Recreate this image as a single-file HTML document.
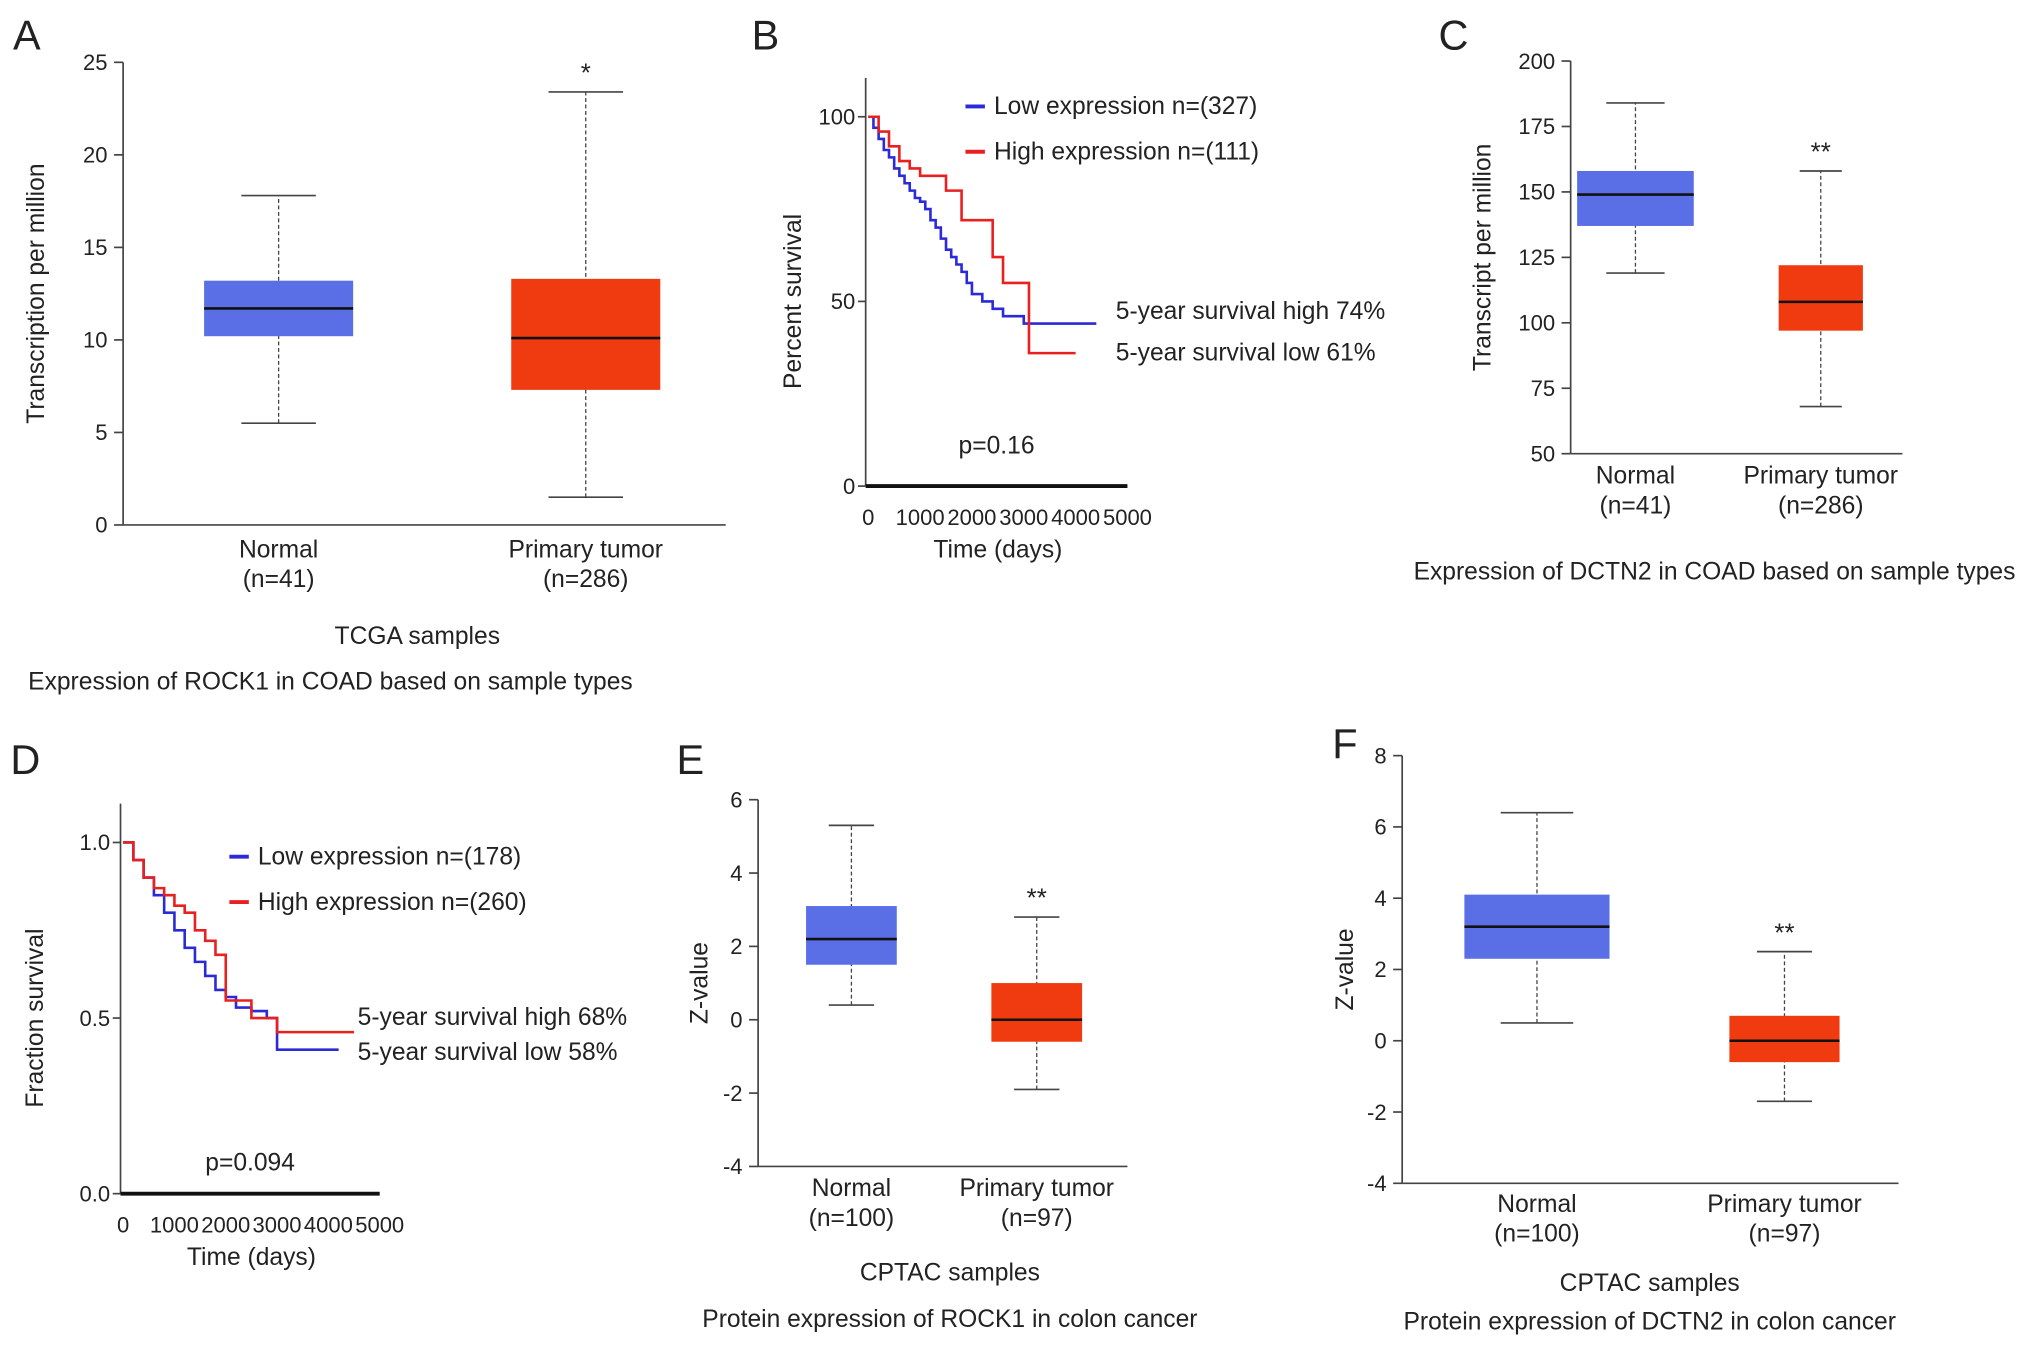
<!DOCTYPE html>
<html><head><meta charset="utf-8"><style>
html,body{margin:0;padding:0;background:#fff}
svg{display:block}
text{font-family:"Liberation Sans",Arial,sans-serif;fill:#222}
</style></head><body>
<svg id="fig" width="2032" height="1348" viewBox="0 0 1568 1040" xmlns="http://www.w3.org/2000/svg"></svg>
<script>
// ---- data ----
const boxCategories = ["Normal","Primary tumor"];
const aNormal = [5.5,10.2,11.7,13.2,17.8];
const aTumor = [1.5,7.3,10.1,13.3,23.4];
const aTicks = [0,5,10,15,20,25];
const cNormal = [119,137,149,158,184];
const cTumor = [68,97,108,122,158];
const cTicks = [50,75,100,125,150,175,200];
const eNormal = [0.4,1.5,2.2,3.1,5.3];
const eTumor = [-1.9,-0.6,0,1.0,2.8];
const eTicks = [-4,-2,0,2,4,6];
const fNormal = [0.5,2.3,3.2,4.1,6.4];
const fTumor = [-1.7,-0.6,0,0.7,2.5];
const fTicks = [-4,-2,0,2,4,6,8];
const survTimeTicks = [0,1000,2000,3000,4000,5000];
const bLowT = [0,100,200,300,400,500,600,700,800,900,1000,1100,1200,1300,1400,1500,1600,1700,1800,1900,2000,2200,2400,2600,3000,4400];
const bLowS = [100,97,94,91,89,86,84,82,80,78,77,75,72,70,67,64,62,60,58,55,52,50,48,46,44,44];
const bHighT = [0,200,400,600,800,1000,1200,1500,1800,2000,2400,2600,3000,3100,4000];
const bHighS = [100,96,92,88,86,84,84,80,72,72,62,55,55,36,36];
const bTicks = [0,50,100];
const dLowT = [0,200,400,600,800,1000,1200,1400,1600,1800,2000,2200,2500,2800,3000,3400,4200];
const dLowS = [1.0,0.95,0.9,0.85,0.8,0.75,0.7,0.66,0.62,0.58,0.56,0.53,0.52,0.5,0.41,0.41,0.41];
const dHighT = [0,200,400,600,800,1000,1200,1400,1600,1800,2000,2500,3000,4500];
const dHighS = [1.0,0.95,0.9,0.87,0.85,0.82,0.8,0.75,0.72,0.68,0.55,0.5,0.46,0.46];
const dTicks = [0.0,0.5,1.0];

const NS="http://www.w3.org/2000/svg";
const svg=document.getElementById('fig');
const FS=19;
function el(tag,attrs,parent){const e=document.createElementNS(NS,tag);for(const k in attrs)e.setAttribute(k,attrs[k]);(parent||svg).appendChild(e);return e;}
function txt(x,y,s,size,anchor,name,extra){const t=el('text',Object.assign({x:x,y:y,'font-size':size,'text-anchor':anchor||'middle'},extra||{}));t.textContent=s;


return t;}
const BLUE="#5a6ee6",RED="#f03a10";

function boxPanel(p){
  const y=v=>p.y0+(v-p.vmin)/(p.vmax-p.vmin)*(p.y1-p.y0);
  const g=el('g',{});
  
  
  const ax=el('line',{x1:p.ax,y1:y(p.vmax),x2:p.ax,y2:y(p.vmin),stroke:'#444','stroke-width':1.3},g);
  
  
  const bx=el('line',{x1:p.ax,y1:y(p.vmin),x2:p.axEnd,y2:y(p.vmin),stroke:'#444','stroke-width':1.3},g);
  
  
  p.ticks.forEach(t=>{
    el('line',{x1:p.ax-7,y1:y(t),x2:p.ax,y2:y(t),stroke:'#444','stroke-width':1.3},g);
    g.appendChild(txt(p.ax-12,y(t)+6,String(t),17,'end','y-tick-label'));
  });
  [p.normal,p.tumor].forEach((d,i)=>{
    const cx=p.cx[i],w=p.w[i],col=i?RED:BLUE;
    const wl=el('line',{x1:cx,y1:y(d[0]),x2:cx,y2:y(d[4]),stroke:'#444','stroke-width':1,'stroke-dasharray':'3,2'},g);
    
    
    [d[0],d[4]].forEach(v=>el('line',{x1:cx-w/4,y1:y(v),x2:cx+w/4,y2:y(v),stroke:'#444','stroke-width':1.3},g));
    const r=el('rect',{x:cx-w/2,y:y(d[3]),width:w,height:y(d[1])-y(d[3]),fill:col},g);
    
    
    el('line',{x1:cx-w/2,y1:y(d[2]),x2:cx+w/2,y2:y(d[2]),stroke:'#111','stroke-width':2},g);
    g.appendChild(txt(cx,p.labY,boxCategories[i],FS,'middle','category-label'));
    g.appendChild(txt(cx,p.labY+23,p.ns[i],FS,'middle','sample-size-label'));
  });
  g.appendChild(txt(p.cx[1],y(p.tumor[4])-8,p.star,20,'middle','significance-marker'));
  g.appendChild(txt(0,0,p.ylabel,FS,'middle','y-axis-title',{transform:`translate(${p.ylx},${(y(p.vmin)+y(p.vmax))/2}) rotate(-90)`}));
}
function survPanel(p){
  const x=t=>p.x0+t/5000*(p.x1-p.x0);
  const y=v=>p.y0+(v-p.vmin)/(p.vmax-p.vmin)*(p.y1-p.y0);
  const g=el('g',{});
  
  
  el('line',{x1:p.x0-2,y1:y(p.vmax)-30,x2:p.x0-2,y2:y(p.vmin),stroke:'#444','stroke-width':1.3},g);
  el('line',{x1:p.x0-2,y1:y(p.vmin),x2:x(5000),y2:y(p.vmin),stroke:'#111','stroke-width':3},g);
  p.ticks.forEach(t=>{el('line',{x1:p.x0-8,y1:y(t),x2:p.x0-2,y2:y(t),stroke:'#444','stroke-width':1.3},g);
    g.appendChild(txt(p.x0-10,y(t)+6,p.fmt(t),17,'end','y-tick-label'));});
  survTimeTicks.forEach(t=>g.appendChild(txt(x(t),y(p.vmin)+30,String(t),17,'middle','x-tick-label')));
  [[p.lowT,p.lowS,'#2a2ad8','low-expression-curve'],[p.highT,p.highS,'#e82020','high-expression-curve']].forEach(s=>{
    let d=`M${x(s[0][0])},${y(s[1][0])}`;
    for(let i=1;i<s[0].length;i++)d+=`H${x(s[0][i])}V${y(s[1][i])}`;
    const path=el('path',{d:d,fill:'none',stroke:s[2],'stroke-width':2},g);
    
    
  });
  g.appendChild(txt(x(2500),y(p.vmin)+55,'Time (days)',FS,'middle','x-axis-title'));
  g.appendChild(txt(0,0,p.ylabel,FS,'middle','y-axis-title',{transform:`translate(${p.ylx},${(y(p.vmin)+y(p.vmax))/2}) rotate(-90)`}));
}

[['A',10,38],['B',580,38],['C',1110,38],['D',8,597],['E',522,597],['F',1028,585]].forEach(l=>txt(l[1],l[2],l[0],32,'start','panel-label-'+l[0].toLowerCase()));

boxPanel({name:'panel-a',ax:95,axEnd:560,y0:405,y1:48,vmin:0,vmax:25,ticks:aTicks,normal:aNormal,tumor:aTumor,cx:[215,452],w:[115,115],labY:430,ns:['(n=41)','(n=286)'],star:'*',ylabel:'Transcription per million',ylx:34});
txt(322,497,'TCGA samples',FS,'middle','x-axis-title');
txt(255,532,'Expression of ROCK1 in COAD based on sample types',FS,'middle','chart-title');

boxPanel({name:'panel-c',ax:1212,axEnd:1468,y0:350,y1:47,vmin:50,vmax:200,ticks:cTicks,normal:cNormal,tumor:cTumor,cx:[1262,1405],w:[90,65],labY:373,ns:['(n=41)','(n=286)'],star:'**',ylabel:'Transcript per million',ylx:1150});
txt(1323,447,'Expression of DCTN2 in COAD based on sample types',FS,'middle','chart-title');

boxPanel({name:'panel-e',ax:585,axEnd:870,y0:900,y1:617,vmin:-4,vmax:6,ticks:eTicks,normal:eNormal,tumor:eTumor,cx:[657,800],w:[70,70],labY:923,ns:['(n=100)','(n=97)'],star:'**',ylabel:'Z-value',ylx:546});
txt(733,988,'CPTAC samples',FS,'middle','x-axis-title');
txt(733,1024,'Protein expression of ROCK1 in colon cancer',FS,'middle','chart-title');

boxPanel({name:'panel-f',ax:1082,axEnd:1465,y0:913,y1:583,vmin:-4,vmax:8,ticks:fTicks,normal:fNormal,tumor:fTumor,cx:[1186,1377],w:[112,85],labY:935,ns:['(n=100)','(n=97)'],star:'**',ylabel:'Z-value',ylx:1044});
txt(1273,996,'CPTAC samples',FS,'middle','x-axis-title');
txt(1273,1026,'Protein expression of DCTN2 in colon cancer',FS,'middle','chart-title');

survPanel({name:'panel-b',x0:670,x1:870,y0:375,y1:90,vmin:0,vmax:100,ticks:bTicks,fmt:t=>String(t),lowT:bLowT,lowS:bLowS,highT:bHighT,highS:bHighS,ylabel:'Percent survival',ylx:618});
el('line',{x1:745,y1:82,x2:760,y2:82,stroke:'#2a2ad8','stroke-width':3});
el('line',{x1:745,y1:117,x2:760,y2:117,stroke:'#e82020','stroke-width':3});
txt(767,88,'Low expression n=(327)',FS,'start','legend-entry-low');
txt(767,123,'High expression n=(111)',FS,'start','legend-entry-high');
txt(861,246,'5-year survival high 74%',FS,'start','annotation-high');
txt(861,278,'5-year survival low 61%',FS,'start','annotation-low');
txt(769,350,'p=0.16',FS,'middle','p-value');

survPanel({name:'panel-d',x0:95,x1:293,y0:921,y1:650,vmin:0,vmax:1,ticks:dTicks,fmt:t=>t.toFixed(1),lowT:dLowT,lowS:dLowS,highT:dHighT,highS:dHighS,ylabel:'Fraction survival',ylx:33});
el('line',{x1:177,y1:661,x2:192,y2:661,stroke:'#2a2ad8','stroke-width':3});
el('line',{x1:177,y1:696,x2:192,y2:696,stroke:'#e82020','stroke-width':3});
txt(199,667,'Low expression n=(178)',FS,'start','legend-entry-low');
txt(199,702,'High expression n=(260)',FS,'start','legend-entry-high');
txt(276,791,'5-year survival high 68%',FS,'start','annotation-high');
txt(276,818,'5-year survival low 58%',FS,'start','annotation-low');
txt(193,903,'p=0.094',FS,'middle','p-value');
</script>
</body></html>
